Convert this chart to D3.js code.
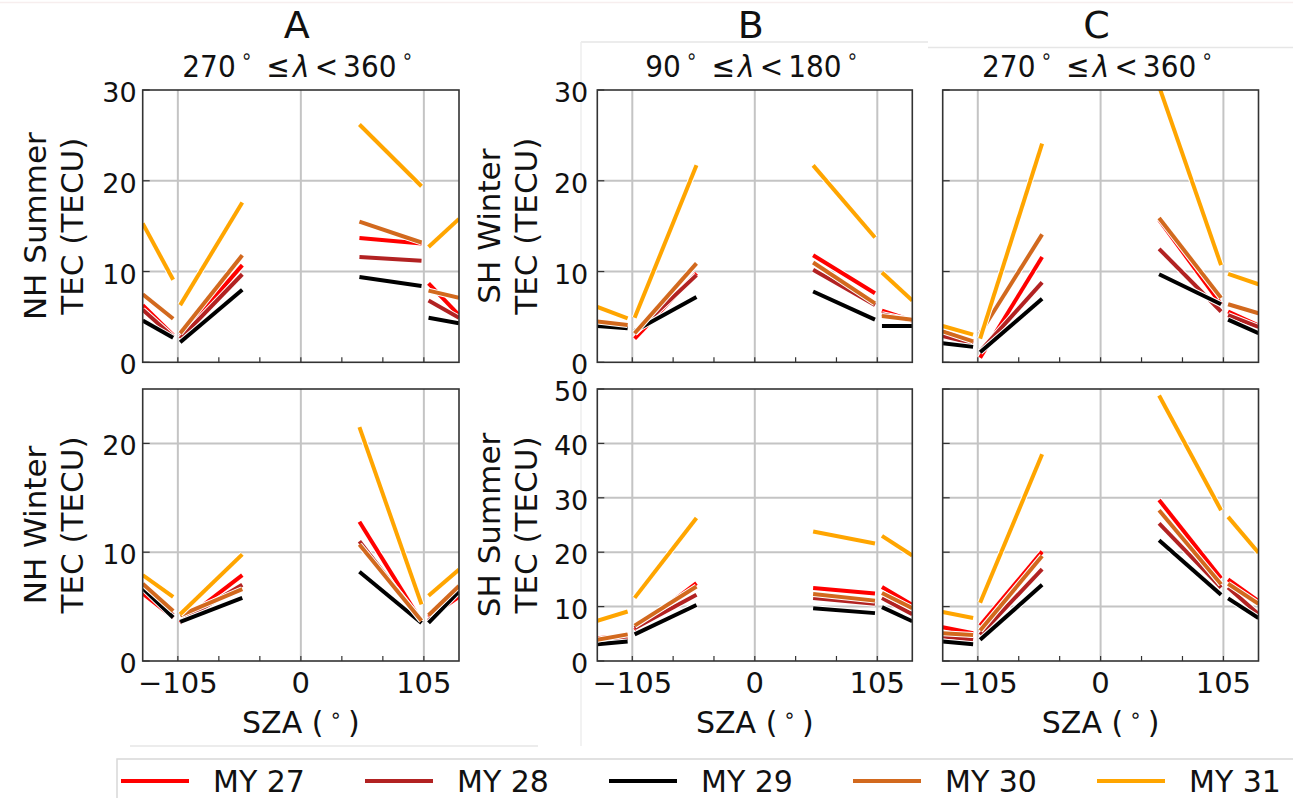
<!DOCTYPE html>
<html>
<head>
<meta charset="utf-8">
<script src="https://cdn.jsdelivr.net/npm/d3@7/dist/d3.min.js"></script>
<style>
body{margin:0;background:#fff;}
text{font-family:"DejaVu Sans",sans-serif;fill:#111;}
</style>
</head>
<body>
<div id="fig"></div>
<script>
/////////////////////////////////////////////////////////////////////
/////////////////////////global variables////////////////////////////
/////////////////////////////////////////////////////////////////////
var wdim = 1293, hdim = 798;
var canvas;

var years  = ["MY 27", "MY 28", "MY 29", "MY 30", "MY 31"];
var colors = ["#ff0000", "#b22222", "#000000", "#d2691e", "#ffa500"];

// SZA bins, each series is drawn as four separate segments
var szaBins = [[-135, -109], [-103, -50], [50, 103], [109, 135]];
var szaTicks = [-105, -70, -35, 0, 35, 70, 105];
var szaLabels = [-105, 0, 105];

// TEC values: one row per Mars year, two values (start, end) per segment
var tecA_nhSummer = [
  [6.3, 3.0, 2.8, 10.7, 13.7, 13.1, 8.7, 5.2],
  [5.8, 2.8, 2.6, 9.7, 11.6, 11.2, 6.8, 4.9],
  [4.6, 2.7, 2.2, 8.0, 9.4, 8.4, 4.9, 4.3],
  [7.5, 4.8, 3.2, 11.8, 15.5, 13.2, 7.9, 7.1],
  [15.3, 9.1, 6.3, 17.6, 26.2, 19.4, 12.7, 15.8]
];
var tecA_nhWinter = [
  [6.2, 4.0, 3.5, 7.9, 12.8, 3.6, 4.0, 5.9],
  [6.9, 4.2, 3.6, 7.0, 11.0, 3.6, 3.7, 6.6],
  [6.7, 4.0, 3.6, 5.8, 8.2, 3.5, 3.5, 6.4],
  [7.1, 4.6, 4.2, 6.6, 10.7, 3.7, 4.2, 6.9],
  [7.9, 5.9, 4.3, 9.8, 21.5, 5.2, 6.0, 8.4]
];
var tecB_shWinter = [
  [4.5, 4.0, 2.6, 9.8, 11.8, 7.6, 5.7, 4.6],
  [4.3, 3.9, 3.2, 9.6, 10.2, 6.3, 5.3, 4.6],
  [4.0, 3.75, 3.45, 7.2, 7.8, 4.7, 4.0, 4.0],
  [4.5, 4.1, 3.2, 10.9, 11.0, 6.5, 5.1, 4.7],
  [6.1, 4.85, 4.9, 21.7, 21.7, 13.75, 9.9, 6.8]
];
var tecB_shSummer = [
  [4.2, 4.7, 5.7, 14.3, 13.4, 12.4, 13.6, 10.3],
  [3.6, 4.2, 6.0, 12.2, 11.6, 10.5, 11.6, 8.6],
  [3.1, 3.6, 4.9, 10.3, 9.7, 8.8, 9.9, 7.3],
  [3.9, 4.9, 6.5, 13.7, 12.3, 11.1, 12.5, 9.7],
  [7.4, 9.1, 11.6, 26.3, 23.8, 21.6, 23.0, 19.4]
];
var tecC_shWinter = [
  [3.2, 2.3, 0.5, 11.6, 15.7, 6.4, 5.6, 4.05],
  [2.9, 2.1, 1.2, 8.8, 12.5, 5.6, 5.2, 3.9],
  [2.1, 1.7, 1.1, 7.0, 9.7, 6.4, 4.7, 3.2],
  [3.4, 2.3, 3.2, 14.1, 15.9, 7.1, 6.4, 5.4],
  [4.0, 3.05, 2.6, 24.1, 30.4, 10.7, 9.75, 8.6]
];
var tecC_shSummer = [
  [6.2, 5.1, 6.5, 20.1, 29.6, 15.2, 15.0, 11.0],
  [4.5, 3.9, 4.8, 16.9, 25.3, 13.5, 13.5, 8.6],
  [3.6, 3.1, 3.9, 14.0, 22.2, 12.2, 11.5, 7.9],
  [5.1, 4.8, 5.6, 19.3, 27.7, 14.1, 14.2, 10.5],
  [9.0, 7.9, 10.7, 38.0, 48.8, 27.7, 26.5, 19.9]
];

var colTitles = ["A", "B", "C"];
var colLon = [["270", "360"], ["90", "180"], ["270", "360"]];

// panel layout (pixel boxes of the axes)
var colX = [[142.7, 459], [597.3, 912.3], [942.7, 1258.5]];
var rowY = [[90, 362.3], [389, 661]];

var panels = [
  {col:0, row:0, data:tecA_nhSummer, ymax:30, yticks:[0,10,20,30], ylab:["NH Summer","TEC (TECU)"]},
  {col:0, row:1, data:tecA_nhWinter, ymax:25, yticks:[0,10,20],    ylab:["NH Winter","TEC (TECU)"]},
  {col:1, row:0, data:tecB_shWinter, ymax:30, yticks:[0,10,20,30], ylab:["SH Winter","TEC (TECU)"]},
  {col:1, row:1, data:tecB_shSummer, ymax:50, yticks:[0,10,20,30,40,50], ylab:["SH Summer","TEC (TECU)"]},
  {col:2, row:0, data:tecC_shWinter, ymax:30, yticks:[0,10,20,30], ylab:null},
  {col:2, row:1, data:tecC_shSummer, ymax:50, yticks:[0,10,20,30,40,50], ylab:null}
];

/////////////////////////////////////////////////////////////////
/////////////////////Function to build svg//////////////////////
///////////////////////////////////////////////////////////////
function build_canvas(){
	var svg = d3.select("#fig")
		.append("svg")
		.attr("width", wdim)
		.attr("height", hdim);
	svg.append("rect").attr("width", wdim).attr("height", hdim).attr("fill", "#fff");
	return svg;
}

// faint borders left over from the stitched sub-figures
function draw_borders(){
	var seams = [
		[0, 2.5, wdim, 2.5, "#f7eeee"],
		[581, 42, 928, 42, "#e6e6e6"],
		[928, 47.5, wdim, 47.5, "#e6e6e6"],
		[581, 42, 581, 746, "#eeeeee"],
		[130, 746, 538, 746, "#e6e6e6"]
	];
	canvas.selectAll("line.seam").data(seams).enter()
		.append("line").attr("class", "seam")
		.attr("x1", d => d[0]).attr("y1", d => d[1])
		.attr("x2", d => d[2]).attr("y2", d => d[3])
		.attr("stroke", d => d[4]).attr("stroke-width", 1.5);
}

/////////////////////////////////////////////////////////////////
/////////////////////one panel of TEC vs SZA////////////////////
///////////////////////////////////////////////////////////////
function draw_panel(p, idx){
	var x0 = colX[p.col][0], x1 = colX[p.col][1];
	var y0 = rowY[p.row][0], y1 = rowY[p.row][1];
	var x = d3.scaleLinear().domain([-135, 135]).range([x0, x1]);
	var y = d3.scaleLinear().domain([0, p.ymax]).range([y1, y0]);

	var g = canvas.append("g");
	var clipId = "clip" + idx;
	g.append("clipPath").attr("id", clipId)
		.append("rect").attr("x", x0).attr("y", y0)
		.attr("width", x1 - x0).attr("height", y1 - y0);

	// grid
	g.selectAll("line.vgrid").data(szaLabels).enter().append("line")
		.attr("x1", d => x(d)).attr("x2", d => x(d))
		.attr("y1", y0).attr("y2", y1)
		.attr("stroke", "#c4c4c4").attr("stroke-width", 2);
	g.selectAll("line.hgrid").data(p.yticks.filter(v => v > 0 && v < p.ymax)).enter().append("line")
		.attr("x1", x0).attr("x2", x1)
		.attr("y1", d => y(d)).attr("y2", d => y(d))
		.attr("stroke", "#c4c4c4").attr("stroke-width", 2);

	// series, each segment gets a thin white halo
	var lines = g.append("g").attr("clip-path", "url(#" + clipId + ")");
	var segLine = d3.line().x(d => x(d[0])).y(d => y(d[1]));
	p.data.forEach(function(vals, s){
		szaBins.forEach(function(bin, k){
			var pts = [[bin[0], vals[2*k]], [bin[1], vals[2*k+1]]];
			lines.append("path").attr("d", segLine(pts))
				.attr("fill", "none").attr("stroke", "#fff").attr("stroke-width", 6);
			lines.append("path").attr("d", segLine(pts))
				.attr("fill", "none").attr("stroke", colors[s]).attr("stroke-width", 4);
		});
	});

	// frame
	g.append("rect").attr("x", x0).attr("y", y0)
		.attr("width", x1 - x0).attr("height", y1 - y0)
		.attr("fill", "none").attr("stroke", "#333").attr("stroke-width", 1.6);

	// inward ticks
	g.selectAll("line.xtick").data(szaTicks).enter().append("line")
		.attr("x1", d => x(d)).attr("x2", d => x(d))
		.attr("y1", y1).attr("y2", y1 - 5)
		.attr("stroke", "#333").attr("stroke-width", 1.2);
	g.selectAll("line.ytick").data(p.yticks).enter().append("line")
		.attr("x1", x0).attr("x2", x0 + 7)
		.attr("y1", d => y(d)).attr("y2", d => y(d))
		.attr("stroke", "#333").attr("stroke-width", 1.2);

	// y tick labels only on first two columns
	if(p.col < 2){
		var gap = p.col == 0 ? 6 : 9;
		g.selectAll("text.ylab").data(p.yticks).enter().append("text")
			.attr("x", x0 - gap).attr("y", d => y(d) + 12)
			.attr("text-anchor", "end").attr("font-size", "27px")
			.text(d => d);
	}
	// x tick labels and axis title on bottom row
	if(p.row == 1){
		g.selectAll("text.xlab").data(szaLabels).enter().append("text")
			.attr("x", d => x(d)).attr("y", y1 + 32)
			.attr("text-anchor", "middle").attr("font-size", "29px")
			.text(d => d < 0 ? "\u2212" + Math.abs(d) : d);
		var t = g.append("text").attr("x", (x0 + x1) / 2).attr("y", y1 + 72)
			.attr("text-anchor", "middle").attr("font-size", "30px");
		t.append("tspan").text("SZA (\u2009");
		t.append("tspan").attr("font-size", "20px").attr("dy", -11).text("\u2218");
		t.append("tspan").attr("dy", 11).text("\u2009)");
	}
	// y axis label, two lines
	if(p.ylab){
		var cy = (y0 + y1) / 2;
		var lx = p.col == 0 ? [35, 72] : [489, 526];
		p.ylab.forEach(function(s, i){
			g.append("text")
				.attr("transform", "translate(" + lx[i] + "," + cy + ") rotate(-90)")
				.attr("text-anchor", "middle").attr("dy", "0.36em")
				.attr("font-size", "31px").text(s);
		});
	}
}

/////////////////////////////////////////////////////////////////
/////////////////////column titles//////////////////////////////
///////////////////////////////////////////////////////////////
function draw_titles(){
	colTitles.forEach(function(c, i){
		var cx = (colX[i][0] + colX[i][1]) / 2;
		canvas.append("text").attr("x", cx - 4).attr("y", 38)
			.attr("text-anchor", "middle").attr("font-size", "38px").text(c);

		var t = canvas.append("text")
			.attr("transform", "translate(" + (cx - 3) + ",77) scale(1,1.1)")
			.attr("text-anchor", "middle").attr("font-size", "28px");
		t.append("tspan").text(colLon[i][0]);
		t.append("tspan").attr("dx", 5).attr("font-size", "19px").attr("dy", -13).text("\u2218");
		t.append("tspan").attr("dx", 14).attr("dy", 13).text("\u2264");
		t.append("tspan").attr("dx", 3).attr("font-style", "italic").text("\u03bb");
		t.append("tspan").attr("dx", 5).text("<");
		t.append("tspan").attr("dx", 5).text(colLon[i][1]);
		t.append("tspan").attr("dx", 5).attr("font-size", "19px").attr("dy", -13).text("\u2218");
	});
}

/////////////////////////////////////////////////////////////////
/////////////////////legend////////////////////////////////////
///////////////////////////////////////////////////////////////
function draw_legend(){
	var lg = canvas.append("g");
	lg.append("rect").attr("x", 117).attr("y", 759)
		.attr("width", 1250).attr("height", 80)
		.attr("fill", "#fff").attr("stroke", "#d8d8d8").attr("stroke-width", 1.5);
	var item = lg.selectAll("g.item").data(years).enter().append("g")
		.attr("transform", (d, i) => "translate(" + (121 + i * 244) + ",781)");
	item.append("line").attr("x1", 0).attr("x2", 68)
		.attr("stroke", (d, i) => colors[i]).attr("stroke-width", 4);
	item.append("text").attr("x", 92).attr("y", 11)
		.attr("font-size", "30px").text(d => d);
}

////////////////////////////////////////////////////////////////////
/////////////////////// MAIN //////////////////////////////////////
//////////////////////////////////////////////////////////////////
function main(){
	canvas = build_canvas();
	draw_borders();
	panels.forEach(draw_panel);
	draw_titles();
	draw_legend();
}

main();
</script>
</body>
</html>
